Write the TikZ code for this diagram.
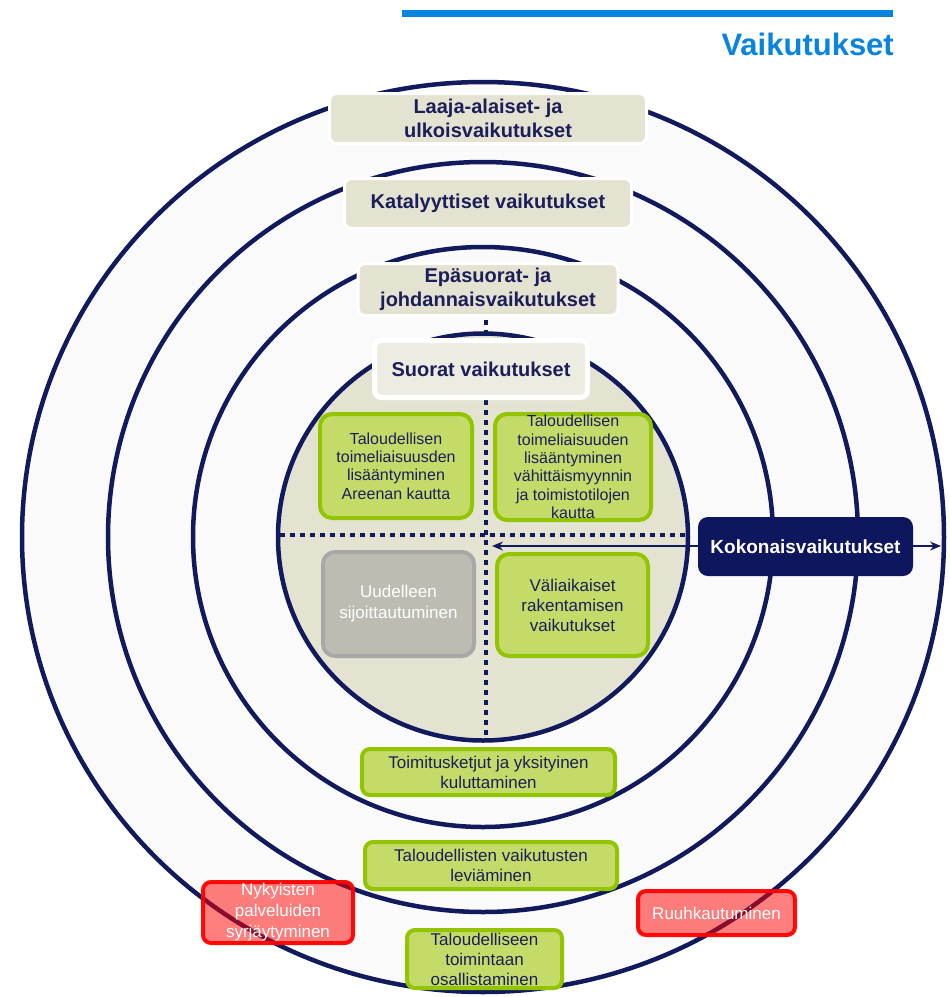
\documentclass[tikz,border=0pt]{standalone}
\usepackage{fontspec}
\setmainfont{Liberation Sans}
\usepackage{xcolor}
\usetikzlibrary{arrows.meta}

\definecolor{navy}{RGB}{16,26,92}
\definecolor{inktext}{RGB}{28,30,90}
\definecolor{beige}{RGB}{228,227,209}
\definecolor{paleinner}{RGB}{237,236,226}
\definecolor{greenfill}{RGB}{196,219,106}
\definecolor{greenedge}{RGB}{146,196,0}
\definecolor{greyfill}{RGB}{189,188,179}
\definecolor{greyedge}{RGB}{168,168,168}
\definecolor{kokofill}{RGB}{14,23,94}
\definecolor{titleblue}{RGB}{8,132,222}
\definecolor{bgpale}{RGB}{250,250,250}

\tikzset{
  ring/.style={draw=navy, line width=4.5pt},
  levelbox/.style={draw=white, line width=3pt, fill=beige, rounded corners=7pt,
    text=inktext, font=\bfseries\fontsize{20}{24}\selectfont, align=center, inner sep=0pt},
  greenbox/.style={draw=greenedge, line width=4pt, fill=greenfill, rounded corners=12pt,
    text=inktext, align=center, inner sep=0pt},
  greybox/.style={draw=greyedge, line width=4pt, fill=greyfill, rounded corners=12pt,
    text=white, align=center, inner sep=0pt},
  redbox/.style={draw=red, line width=4pt, fill=red, fill opacity=0.5, draw opacity=0.95,
    text opacity=1, rounded corners=8pt, text=white, align=center, inner sep=0pt,
    font=\fontsize{17}{21}\selectfont},
  dotline/.style={draw=navy, line width=4.5pt, dash pattern=on 4.5pt off 5.5pt},
  totalarrow/.style={draw=navy, line width=1.5pt, -{Stealth[length=11pt,width=9pt]}}
}

\begin{document}
\begin{tikzpicture}[x=1pt,y=-1pt]
\useasboundingbox (0,0) rectangle (950,997);
\fill[white] (0,0) rectangle (950,997);

% title
\coordinate (rulestart) at (402,13);
\coordinate (ruleend) at (893,13);
\draw[titleblue, line width=7pt] (rulestart) -- (ruleend);
\node[anchor=east, inner sep=0pt, text=titleblue, font=\bfseries\fontsize{31}{36}\selectfont] (title) at (894,44) {Vaikutukset};

% rings
\coordinate (c) at (483,537);
\draw[ring, fill=bgpale] (c) ellipse [x radius=461, y radius=455];
\draw[ring] (c) ellipse [x radius=375, y radius=375];
\draw[ring] (c) ellipse [x radius=290, y radius=290];
\draw[ring, fill=beige] (c) ellipse [x radius=205, y radius=203.5];

% dotted quadrants
\coordinate (vtop) at (486,320);
\coordinate (vbot) at (486,741);
\coordinate (hleft) at (280,535);
\coordinate (hright) at (690,535);
\draw[dotline] (vtop) -- (vbot);
\draw[dotline] (hleft) -- (hright);

% level boxes
\node[levelbox, minimum width=317pt, minimum height=50pt] (laaja) at (488,118.5) {Laaja-alaiset- ja\\ulkoisvaikutukset};
\node[levelbox, minimum width=287pt, minimum height=50pt] (katal) at (488,203.5) {Katalyyttiset vaikutukset};
\node[levelbox, minimum width=260pt, minimum height=52pt] (epas) at (488,289.5) {Epäsuorat- ja\\johdannaisvaikutukset};
\node[levelbox, fill=paleinner, line width=5pt, minimum width=213pt, minimum height=57pt] (suorat) at (481,369) {Suorat vaikutukset};

% direct effects
\node[greenbox, minimum width=152pt, minimum height=104pt, font=\fontsize{16}{18.3}\selectfont] (areena) at (396,466) {Taloudellisen\\toimeliaisuusden\\lisääntyminen\\Areenan kautta};
\node[greenbox, minimum width=156pt, minimum height=106pt, font=\fontsize{16}{18.3}\selectfont] (myynti) at (573,467) {Taloudellisen\\toimeliaisuuden\\lisääntyminen\\vähittäismyynnin\\ja toimistotilojen\\kautta};
\node[greybox, minimum width=151pt, minimum height=104pt, font=\fontsize{17}{21}\selectfont] (uudelleen) at (398.5,604) {Uudelleen\\sijoittautuminen};
\node[greenbox, minimum width=151pt, minimum height=102pt, font=\fontsize{17}{20}\selectfont] (valiaik) at (572.5,605) {Väliaikaiset\\rakentamisen\\vaikutukset};

% total effects
\node[fill=kokofill, rounded corners=10pt, minimum width=215pt, minimum height=59pt, inner sep=0pt,
  text=white, font=\bfseries\fontsize{19}{22}\selectfont] (koko) at (805.5,546.5) {Kokonaisvaikutukset};
\coordinate (kokoin) at (492,546);
\coordinate (kokoout) at (941,546);
\draw[totalarrow] (koko.west |- kokoin) -- (kokoin);
\draw[totalarrow] (koko.east |- kokoout) -- (kokoout);

% outer ring effects
\node[greenbox, rounded corners=8pt, minimum width=253pt, minimum height=46pt, font=\fontsize{17}{20}\selectfont] (toimitus) at (488.5,772) {Toimitusketjut ja yksityinen\\kuluttaminen};
\node[greenbox, rounded corners=8pt, minimum width=252pt, minimum height=47pt, font=\fontsize{17}{20}\selectfont] (levia) at (491,865.5) {Taloudellisten vaikutusten\\leviäminen};
\node[greenbox, rounded corners=8pt, minimum width=155pt, minimum height=58pt, font=\fontsize{17}{20}\selectfont] (osallis) at (484.5,959) {Taloudelliseen\\toimintaan\\osallistaminen};
\node[redbox, minimum width=150pt, minimum height=61pt] (syrjay) at (278,912.5) {Nykyisten\\palveluiden\\syrjäytyminen};
\node[redbox, minimum width=157pt, minimum height=44pt] (ruuhka) at (716.5,913) {Ruuhkautuminen};
\end{tikzpicture}
\end{document}
